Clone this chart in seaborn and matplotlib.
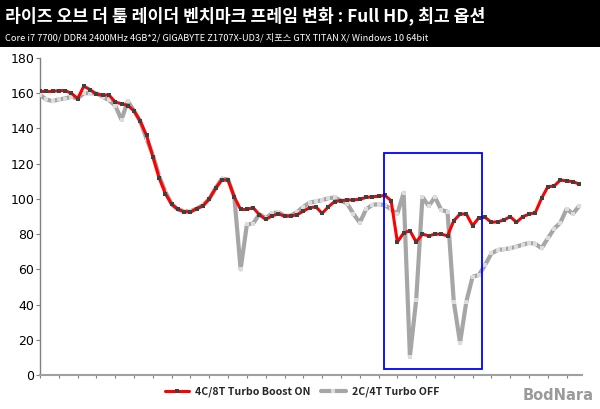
import numpy as np
import pandas as pd
import matplotlib
matplotlib.use("Agg")
import matplotlib.pyplot as plt
import seaborn as sns
from matplotlib.patches import Rectangle

title = "라이즈 오브 더 툼 레이더 벤치마크 프레임 변화 : Full HD, 최고 옵션"
subtitle = "Core i7 7700/ DDR4 2400MHz 4GB*2/ GIGABYTE Z1707X-UD3/ 지포스 GTX TITAN X/ Windows 10 64bit"
series_names = ["4C/8T Turbo Boost ON", "2C/4T Turbo OFF"]
y_ticks = [0, 20, 40, 60, 80, 100, 120, 140, 160, 180]

on_values = [161, 161, 161, 161.5, 161.5, 160, 157, 164, 162, 159.5,
             159, 159, 155, 154, 153, 150, 144, 136, 124, 112,
             103, 97, 94, 92.8, 92.5, 94.5, 96, 100, 106, 110.7,
             110.7, 101, 94, 94, 95, 91, 88.4, 90.3, 91.5, 90.3,
             90.3, 91, 93, 95, 95.5, 91.8, 95.5, 98.5, 99, 99.4,
             99.4, 99.8, 100.8, 101.2, 101.5, 102, 99, 75.5, 80.6, 82,
             75.5, 80, 79, 80, 80, 79, 87.6, 91.4, 91.4, 84.8,
             89.3, 89.5, 86.7, 87, 88, 89.9, 86.7, 89.9, 91.3, 92.2,
             100.3, 106.9, 107.3, 110.7, 110.2, 109.8, 108.4]

off_values = [159, 156.5, 155.5, 156.5, 157, 158, 157, 160, 160, 160,
              158, 156, 153, 145, 155.5, 150, 144, 134, 125, 113,
              104, 97, 94, 93, 93, 94.5, 96.5, 100, 106, 111.5,
              111, 101, 60, 85.5, 86, 91.4, 89, 91.8, 92.5, 90.3,
              90.5, 92.5, 95.5, 97.8, 98.6, 99.3, 100.4, 100.8, 99, 97.3,
              91.5, 86.5, 94, 96.6, 97, 96.5, 94, 91.5, 103.5, 10.5,
              42.6, 101, 96, 101, 93.7, 92.7, 41.6, 18.4, 41.6, 55.8,
              56.8, 62.5, 69, 71, 71.4, 72, 72.9, 74, 75, 74.5,
              72, 77.6, 83, 86.5, 94.3, 91.5, 96]

sns.set_theme(style="white")
plt.rcParams["font.family"] = ["Noto Sans CJK KR", "DejaVu Sans"]

W, H = 600, 409
fig = plt.figure(figsize=(W / 100, H / 100), dpi=100)
fig.patch.set_facecolor("white")

# header band
fig.patches.append(Rectangle((0, 1 - 47 / H), 1, 47 / H, transform=fig.transFigure,
                             facecolor="black", edgecolor="none", zorder=0))
fig.text(5 / W, 1 - 16 / H, title, color="white", fontsize=12.4, fontweight="bold",
         va="center", ha="left")
fig.text(5 / W, 1 - 38 / H, subtitle, color="white", fontsize=6.65,
         va="center", ha="left")

ax = fig.add_axes([40 / W, 34 / H, 542 / W, 317 / H])
ax.set_facecolor("white")

n = len(on_values)
df_on = pd.DataFrame({"idx": np.arange(n), "fps": on_values})
df_off = pd.DataFrame({"idx": np.arange(n), "fps": off_values})

sns.lineplot(data=df_off, x="idx", y="fps", ax=ax, color="#a6a6a6", linewidth=3.0,
             marker="s", markersize=2.2, markerfacecolor="#dcdcdc", markeredgewidth=0,
             label=series_names[1], zorder=3)
sns.lineplot(data=df_on, x="idx", y="fps", ax=ax, color="#ff0000", linewidth=2.2,
             marker="s", markersize=2.2, markerfacecolor="#404040", markeredgewidth=0,
             label=series_names[0], zorder=4)

ax.set_xlim(0, 86.45)
ax.set_ylim(0, 180)
ax.set_yticks(y_ticks)
ax.set_xticks(np.arange(0, n, 3))
ax.set_xticklabels([])
ax.set_xlabel("")
ax.set_ylabel("")
ax.tick_params(axis="y", length=3, width=0.8, color="#808080", labelsize=9,
               labelcolor="black", pad=1, direction="out", left=True)
ax.tick_params(axis="x", length=2.5, width=0.8, color="#808080", direction="out", bottom=True)
for lab in ax.get_yticklabels():
    lab.set_family("DejaVu Sans")
for s in ["top", "right"]:
    ax.spines[s].set_visible(False)
ax.spines["left"].set_color("#808080")
ax.spines["left"].set_linewidth(1.0)
ax.spines["bottom"].set_color("#a0a0a0")
ax.spines["bottom"].set_linewidth(1.5)

# highlight box
ax.add_patch(Rectangle((54.9, 3.4), 15.6, 122.6, fill=False, edgecolor="#0000ff",
                       linewidth=1.3, zorder=6, clip_on=False))

handles, labels = ax.get_legend_handles_labels()
ax.get_legend().remove()
order = [labels.index(series_names[0]), labels.index(series_names[1])]
fig.legend([handles[i] for i in order], [labels[i] for i in order],
           loc="center", bbox_to_anchor=(302 / W, 1 - 392 / H), ncol=2, frameon=False,
           prop={"size": 7.6, "weight": "bold"}, handlelength=2.3, columnspacing=1.0,
           handletextpad=0.6)

fig.text(558 / W, 1 - 396 / H, "BodNara", color="#9a9a9a", fontsize=10.5,
         fontweight="bold", ha="center", va="center", family="DejaVu Sans")

fig.savefig("out.png", dpi=100, facecolor="white")
